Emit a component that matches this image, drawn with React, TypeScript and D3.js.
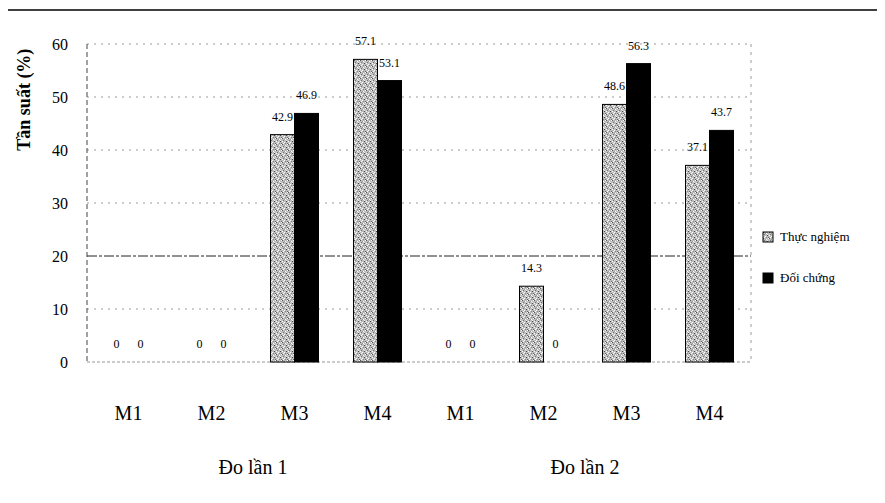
import React from 'react';
import * as d3 from 'd3';

// categories along the x axis (two measurement rounds x four levels)
const categories = ['M1', 'M2', 'M3', 'M4', 'M1', 'M2', 'M3', 'M4'];
const groups = ['Đo lần 1', 'Đo lần 2'];
const thucNghiem = [0, 0, 42.9, 57.1, 0, 14.3, 48.6, 37.1];
const doiChung = [0, 0, 46.9, 53.1, 0, 0, 56.3, 43.7];
const yTicks = [0, 10, 20, 30, 40, 50, 60];
const seriesNames = ['Thực nghiệm', 'Đối chứng'];

const W = 885;
const H = 503;
const margin = { left: 87, right: 134, top: 44, bottom: 141 };
const serif = "'Liberation Serif', 'Times New Roman', Times, serif";

// irregular stipple cells for the grey bars (x, y, colour)
const stippleDots: [number, number, string][] = [
  [0, 0, '#555'], [3, 1, '#fff'], [1, 2, '#777'], [4, 3, '#444'],
  [2, 4, '#fff'], [5, 5, '#666'], [0, 3, '#fff'], [3, 5, '#888'],
  [5, 0, '#fff'], [2, 1, '#999'], [4, 2, '#eee'], [1, 5, '#fff'],
];

export default function App() {
  const x = d3
    .scaleBand<number>()
    .domain(categories.map((_, i) => i))
    .range([margin.left, W - margin.right])
    .padding(0);
  const bw = x.bandwidth();
  const barW = 24;
  const xInner = d3
    .scaleBand<string>()
    .domain(seriesNames)
    .range([bw / 2 - barW, bw / 2 + barW]);
  const y = d3.scaleLinear().domain([0, 60]).range([H - margin.bottom, margin.top]);

  const x0 = margin.left;
  const x1 = W - margin.right;

  const series = [
    { name: seriesNames[0], values: thucNghiem, fill: 'url(#stipple)' },
    { name: seriesNames[1], values: doiChung, fill: '#000' },
  ];

  return (
    <div style={{ margin: -8, width: W, height: H, background: '#fff' }}>
      <svg width={W} height={H} style={{ display: 'block' }} fontFamily={serif}>
        <defs>
          <pattern id="stipple" width="6" height="6" patternUnits="userSpaceOnUse">
            <rect width="6" height="6" fill="#bdbdbd" />
            {stippleDots.map(([px, py, c], i) => (
              <rect key={i} x={px} y={py} width="1" height="1" fill={c} />
            ))}
          </pattern>
        </defs>

        {/* page border lines */}
        <line x1={0} x2={W} y1={10} y2={10} stroke="#000" strokeWidth={1.5} />
        <line x1={1.5} x2={1.5} y1={380} y2={H} stroke="#000" strokeWidth={3} />

        {/* grid */}
        {yTicks.map((t) => (
          <line
            key={t}
            x1={x0}
            x2={x1}
            y1={y(t)}
            y2={y(t)}
            stroke={t === 20 ? '#222' : '#999'}
            strokeWidth={1}
            strokeDasharray={t === 20 ? '10 2 3 2' : t === 0 ? '3 2' : '2 5'}
          />
        ))}
        <line x1={x0} x2={x0} y1={y(60)} y2={y(0)} stroke="#444" strokeDasharray="5 3" />
        <line x1={x1} x2={x1} y1={y(60)} y2={y(0)} stroke="#999" strokeDasharray="3 5" />

        {/* y ticks */}
        {yTicks.map((t) => (
          <text key={t} x={68} y={y(t)} dy="0.35em" textAnchor="end" fontSize={16} fontFamily={serif}>
            {t}
          </text>
        ))}
        <text
          transform={`translate(30,${y(49.5)}) rotate(-90)`}
          textAnchor="middle"
          fontSize={18}
          fontWeight="bold"
          fontFamily={serif}
        >
          Tần suất (%)
        </text>

        {/* bars */}
        {series.map((s) =>
          s.values.map((v, i) => {
            const bx = (x(i) ?? 0) + (xInner(s.name) ?? 0);
            return (
              <g key={s.name + i}>
                {v > 0 && (
                  <rect
                    x={bx}
                    y={y(v)}
                    width={xInner.bandwidth()}
                    height={y(0) - y(v)}
                    fill={s.fill}
                    stroke="#000"
                    strokeWidth={1}
                  />
                )}
                <text
                  x={bx + xInner.bandwidth() / 2}
                  y={y(v) - 14}
                  textAnchor="middle"
                  fontSize={12}
                  fontFamily={serif}
                >
                  {v}
                </text>
              </g>
            );
          })
        )}

        {/* category labels */}
        {categories.map((c, i) => (
          <text key={i} x={(x(i) ?? 0) + bw / 2} y={420} textAnchor="middle" fontSize={20} fontFamily={serif}>
            {c}
          </text>
        ))}
        {groups.map((g, gi) => (
          <text key={g} x={x(gi * 4 + 2) ?? 0} y={474} textAnchor="middle" fontSize={20} fontFamily={serif}>
            {g}
          </text>
        ))}

        {/* legend */}
        {series.map((s, i) => (
          <g key={s.name} transform={`translate(763,${232 + i * 41})`}>
            <rect width={10} height={10} fill={s.fill} stroke="#000" />
            <text x={17} y={9} fontSize={13} fontFamily={serif}>
              {s.name}
            </text>
          </g>
        ))}
      </svg>
    </div>
  );
}
